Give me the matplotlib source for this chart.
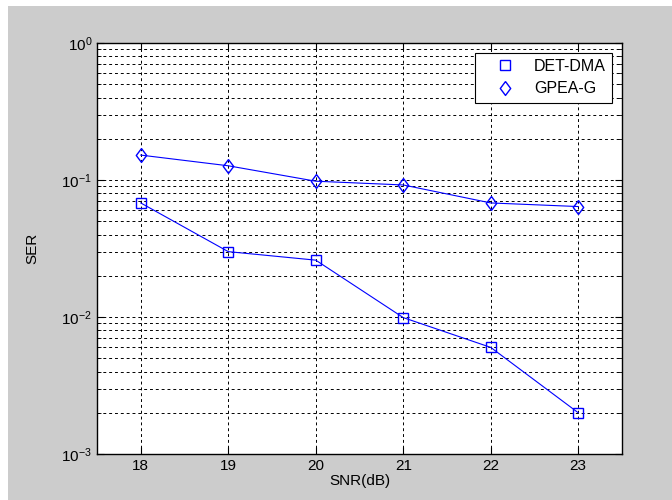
import numpy as np
import matplotlib
matplotlib.use('Agg')
import matplotlib.pyplot as plt
from matplotlib.patches import Rectangle

plt.rcParams['font.family'] = ['Liberation Sans', 'DejaVu Sans']
plt.rcParams['mathtext.fontset'] = 'custom'
plt.rcParams['mathtext.rm'] = 'Liberation Sans'
plt.rcParams['mathtext.it'] = 'Liberation Sans'

snr = [18, 19, 20, 21, 22, 23]
ser_det_dma = [0.068, 0.030, 0.026, 0.0099, 0.006, 0.002]
ser_gpea_g = [0.152, 0.127, 0.098, 0.092, 0.068, 0.064]

# MATLAB-like diamond (a bit taller than wide)
diamond = [(0, 1), (0.75, 0), (0, -1), (-0.75, 0), (0, 1)]

fig = plt.figure(figsize=(6.72, 5.0), dpi=100, facecolor='#cccccc')
# white strips at top and left (screenshot edges)
fig.patches.append(Rectangle((0, 0), 8/672, 1, transform=fig.transFigure,
                             facecolor='white', edgecolor='none'))
fig.patches.append(Rectangle((0, 1 - 6/500), 1, 6/500, transform=fig.transFigure,
                             facecolor='white', edgecolor='none'))

ax = fig.add_axes([97/672, 46/500, 525/672, 411/500])
ax.set_facecolor('white')

ax.semilogy(snr, ser_det_dma, color='#0000ff', lw=0.8, marker='s', ms=7,
            mfc='none', mec='#0000ff', mew=1.0, label='DET-DMA')
ax.semilogy(snr, ser_gpea_g, color='#0000ff', lw=0.8, marker=diamond, ms=10,
            mfc='none', mec='#0000ff', mew=1.0, label='GPEA-G')

ax.set_xlim(17.5, 23.5)
ax.set_ylim(1e-3, 1)
ax.set_xticks(snr)

ax.grid(True, which='major', axis='both', color='black', ls=(0, (3, 3)), lw=0.7)
ax.grid(True, which='minor', axis='y', color='black', ls=(0, (3, 3)), lw=0.7)

ax.tick_params(which='both', direction='in', top=True, right=True,
               labelsize=11, colors='black')
ax.tick_params(which='major', length=5)
ax.tick_params(which='minor', length=3)
ax.tick_params(axis='y', which='minor', labelleft=False)
for s in ax.spines.values():
    s.set_linewidth(1.0)

ax.set_xlabel('SNR(dB)', fontsize=11, labelpad=1)
ax.set_ylabel('SER', fontsize=11, labelpad=16)

leg = ax.legend(loc='upper right', fontsize=11.5, fancybox=False, framealpha=1,
                edgecolor='black', borderaxespad=0.6, handlelength=3.0,
                handletextpad=0.3, borderpad=0.4, labelspacing=0.45)
leg.get_frame().set_linewidth(0.8)
for h in leg.legend_handles:
    h.set_linestyle('none')

fig.savefig('out.png', dpi=100, facecolor=fig.get_facecolor())
